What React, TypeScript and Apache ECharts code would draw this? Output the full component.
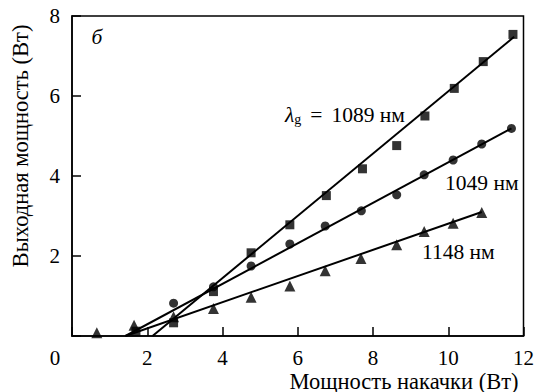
import React, { useEffect, useRef } from "react";
import * as echarts from "echarts";

const xTicks = [0, 2, 4, 6, 8, 10, 12];
const yTicks = [0, 2, 4, 6, 8];

const pump1089 = [1.7, 2.7, 3.76, 4.76, 5.79, 6.76, 7.72, 8.63, 9.38, 10.16, 10.93, 11.72];
const out1089 = [0.12, 0.33, 1.11, 2.08, 2.78, 3.51, 4.18, 4.76, 5.5, 6.19, 6.86, 7.54];

const pump1049 = [2.7, 3.76, 4.76, 5.79, 6.73, 7.69, 8.63, 9.36, 10.13, 10.89, 11.68];
const out1049 = [0.82, 1.23, 1.75, 2.3, 2.75, 3.13, 3.53, 4.03, 4.4, 4.8, 5.19];

const pump1148 = [0.66, 1.65, 2.7, 3.76, 4.76, 5.79, 6.73, 7.68, 8.63, 9.36, 10.13, 10.89];
const out1148 = [0.08, 0.27, 0.48, 0.69, 0.97, 1.25, 1.63, 1.94, 2.28, 2.61, 2.82, 3.09];

const fit1089X = [2.14, 11.75];
const fit1089Y = [0, 7.48];
const fit1049X = [1.42, 11.68];
const fit1049Y = [0, 5.19];
const fit1148X = [1.42, 10.89];
const fit1148Y = [0, 3.1];

const FONT = "Liberation Serif";
const FS_TICK = 21;
const FS_TITLE = 22.5;
const FS_ANN = 21.5;

const zip = (xs: number[], ys: number[]) => xs.map((x, i) => [x, ys[i]]);

const txt = (x: number, y: number, text: string, align: string, fs: number, extra: any = {}) => ({
  type: "text",
  x,
  y,
  ...extra,
  style: {
    text,
    fontFamily: FONT,
    fontSize: fs,
    fill: "#000",
    textAlign: align,
    textVerticalAlign: "middle",
    ...(extra.style || {}),
  },
});

export default function App() {
  const ref = useRef<HTMLDivElement>(null);
  useEffect(() => {
    if (!ref.current) return;
    const chart = echarts.init(ref.current, undefined, { renderer: "svg" });
    const scatter = (data: number[][], symbol: string, size: number) => ({
      type: "scatter",
      data,
      symbol,
      symbolSize: size,
      itemStyle: { color: "#000" },
      z: 3,
    });
    const line = (data: number[][]) => ({
      type: "line",
      data,
      symbol: "none",
      lineStyle: { color: "#000", width: 2 },
      z: 2,
    });
    const axisCommon = {
      type: "value",
      interval: 2,
      axisLine: { show: true, lineStyle: { color: "#000", width: 1.5 } },
      axisTick: { show: true, inside: true, length: 9, lineStyle: { color: "#000", width: 1.5 } },
      splitLine: { show: false },
    };
    chart.setOption({
      animation: false,
      backgroundColor: "#fff",
      textStyle: { fontFamily: FONT },
      grid: {
        left: 72,
        right: 8,
        top: 16,
        bottom: 56,
        show: true,
        borderColor: "#000",
        borderWidth: 1.5,
      },
      xAxis: {
        ...axisCommon,
        min: xTicks[0],
        max: xTicks[xTicks.length - 1],
        axisLabel: {
          color: "#000",
          fontFamily: FONT,
          fontSize: FS_TICK,
          margin: 11,
          formatter: (v: number) => (v === 0 ? "" : String(v)),
        },
      },
      yAxis: {
        ...axisCommon,
        min: yTicks[0],
        max: yTicks[yTicks.length - 1],
        axisLabel: {
          color: "#000",
          fontFamily: FONT,
          fontSize: FS_TICK,
          margin: 12,
          formatter: (v: number) => (v === 0 ? "" : String(v)),
        },
      },
      graphic: [
        txt(55, 358, "0", "center", FS_TICK),
        txt(404, 381, "Мощность накачки (Вт)", "center", FS_TITLE),
        txt(20, 146, "Выходная мощность (Вт)", "center", FS_TITLE, { rotation: Math.PI / 2 }),
        txt(97, 37, "б", "center", FS_ANN, { style: { fontStyle: "italic" } }),
        txt(285, 115, "{i|λ}{s|g}{e|=}1089 нм", "left", FS_ANN, {
          style: {
            rich: {
              i: { fontFamily: FONT, fontSize: FS_ANN, fontStyle: "italic", fill: "#000" },
              s: { fontFamily: FONT, fontSize: 14, fill: "#000", padding: [9, 1, 0, 0] },
              e: { fontFamily: FONT, fontSize: FS_ANN, fill: "#000", padding: [0, 9, 0, 8] },
            },
          },
        }),
        txt(445, 183, "1049 нм", "left", FS_ANN),
        txt(422, 252, "1148 нм", "left", FS_ANN),
      ],
      series: [
        line(zip(fit1089X, fit1089Y)),
        line(zip(fit1049X, fit1049Y)),
        line(zip(fit1148X, fit1148Y)),
        scatter(zip(pump1089, out1089), "rect", 9),
        scatter(zip(pump1049, out1049), "circle", 9),
        scatter(zip(pump1148, out1148), "triangle", 11),
      ],
    });
    return () => chart.dispose();
  }, []);
  return (
    <div
      ref={ref}
      style={{ position: "absolute", left: 0, top: 0, width: 537, height: 392, background: "#fff" }}
    />
  );
}
